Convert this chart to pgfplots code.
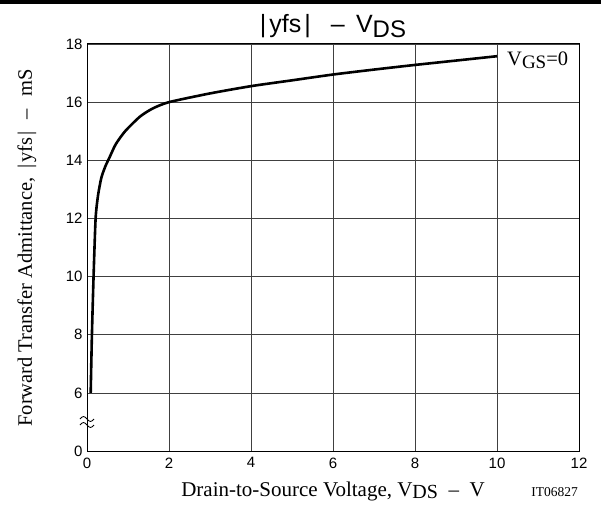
\documentclass[border=0pt]{standalone}
\usepackage{fontspec}
\setmainfont{Liberation Serif}
\newfontfamily\sansf{Liberation Sans}
\usepackage{pgfplots}
\pgfplotsset{compat=1.18}
\begin{document}
\begin{tikzpicture}[x=1pt,y=1pt]
\begin{axis}[name=ax, at={(0,0)}, anchor=south west, scale only axis,
  width=492pt, height=407pt,
  xmin=0, xmax=12, ymin=4, ymax=18,
  xtick={0,2,...,12}, ytick={4,6,...,18},
  yticklabels={0,6,8,10,12,14,16,18},
  grid=major, major grid style={black!75, line width=0.7pt},
  axis line style={line width=1pt},
  major tick length=0pt,
  tick label style={font=\sansf\fontsize{15}{15}\selectfont},
  /pgf/number format/assume math mode=true,
  xticklabel style={yshift=-3pt}, yticklabel style={xshift=-1pt},
  clip=false]
\addplot[line width=2.6pt, black, smooth, tension=0.4] coordinates {
(0.09,6) (0.12,8) (0.16,10) (0.21,12) (0.27,12.8) (0.35,13.4) (0.45,13.8)
(0.55,14.1) (0.7,14.55) (0.93,15.0) (1.29,15.5) (1.6,15.78) (2,16)
(3,16.3) (4,16.55) (5,16.75) (6,16.95) (7,17.12) (8,17.28) (9,17.43) (10,17.58)};
\end{axis}
% axis break mark
\draw[line width=0.8pt] (-7,32) sin (-3.5,34.5) cos (0,32) sin (3.5,29.5) cos (7,32);
\draw[line width=0.8pt] (-7,26) sin (-3.5,28.5) cos (0,26) sin (3.5,23.5) cos (7,26);
% top rule
\fill[black] (-87,447) rectangle (514,451);
% title
\node[anchor=base, inner sep=0pt] at (246,418) {\sansf\fontsize{25}{25}\selectfont |\hspace{0.12em}yfs\hspace{0.12em}|\hspace{0.8em}–\hspace{0.45em}V\raisebox{-0.33ex}{\fontsize{24}{24}\selectfont DS}};
% labels
\node[anchor=base, inner sep=0pt] at (246,-45) {\fontsize{21}{21}\selectfont Drain-to-Source Voltage, V\raisebox{-0.3ex}{\fontsize{20}{20}\selectfont DS}\hspace{0.5em}–\hspace{0.5em}V};
\node[anchor=base east, inner sep=0pt] at (491,-45) {\fontsize{13.5}{13.5}\selectfont IT06827};
\node[anchor=base, rotate=90, inner sep=0pt] at (-55,203) {\fontsize{20.5}{20.5}\selectfont Forward Transfer Admittance, \,|\hspace{0.1em}yfs\hspace{0.1em}|\hspace{0.6em}–\hspace{0.6em}mS};
\node[anchor=base west, inner sep=0pt] at (420,385) {\fontsize{20.5}{20.5}\selectfont V\raisebox{-0.3ex}{\fontsize{19}{19}\selectfont GS}=0};
\pgfresetboundingbox
\path[use as bounding box] (-87,-55) rectangle (514,451);
\end{tikzpicture}
\end{document}
